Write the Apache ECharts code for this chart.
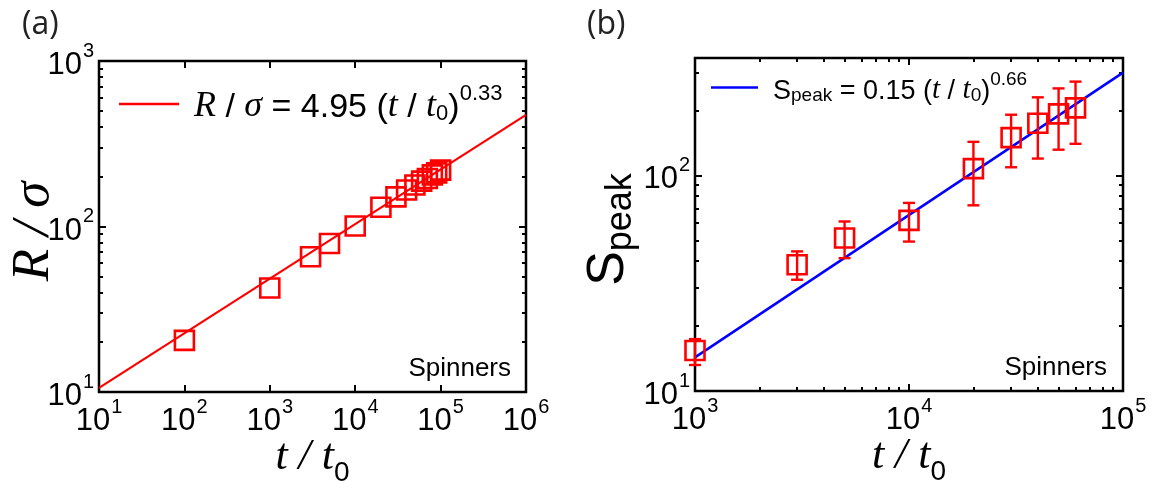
<!DOCTYPE html>
<html>
<head>
<meta charset="utf-8">
<script src="https://cdn.jsdelivr.net/npm/echarts@6/dist/echarts.min.js"></script>
<style>
  html, body { margin: 0; padding: 0; background: #ffffff; }
  #chart { width: 1162px; height: 481px; }
</style>
</head>
<body>
<div id="chart"></div>
<script>
// ---- (a) domain radius R/sigma versus time t/t0 ----
const timeA   = [100, 1000, 3000, 5000, 10000, 20000, 30000, 40000, 50000, 60000, 70000, 80000, 90000, 100000];
const radiusA = [20.5, 42.5, 65.7, 79.0, 100.7, 130.6, 151, 166, 178, 188, 195, 205, 211, 219];
const fitA = { coef: 4.95, expo: 0.33 };
const fitSpanA = [10, 1e6];

// ---- (b) structure-factor peak S_peak versus time t/t0 ----
const timeB  = [1000, 3000, 5000, 10000, 20000, 30000, 40000, 50000, 60000];
const speakB = [15.4, 38.5, 51.2, 61.8, 107.4, 149.6, 174.4, 192.8, 205.6];
const lowB   = [13.2, 32.8, 41.3, 49.3, 72.6, 109, 119.6, 131.5, 140];
const highB  = [17.4, 44.4, 61.1, 74.5, 143, 191, 230, 253, 272];
const fitB = { coef: 0.15, expo: 0.66 };
const fitSpanB = [1000, 1e5];

// ---- axis ranges and minor tick positions ----
const xRangeA = [10, 1e6];
const yRangeA = [10, 1e3];
const xRangeB = [1e3, 1e5];
const yRangeB = [10, 350];
const yMinorA = [20, 30, 40, 50, 60, 70, 80, 90, 200, 300, 400, 500, 600, 700, 800, 900];
const xMinorB = [2000, 3000, 4000, 5000, 6000, 7000, 8000, 9000, 20000, 30000, 40000, 50000, 60000, 70000, 80000, 90000];
const yMinorB = [20, 30, 40, 50, 60, 70, 80, 90, 200, 300];

const RED = '#ff0000';
const BLUE = '#0000ff';
const SANS = 'Liberation Sans';
const SERIF = 'Liberation Serif';

const fitNameA = 'R / sigma fit';
const fitNameB = 'S_peak fit';

function powerLaw(fit, t) { return fit.coef * Math.pow(t, fit.expo); }

// "10^n" labels at whole decades only
function decadeLabel(v) {
  const e = Math.log10(v);
  const r = Math.round(e);
  return Math.abs(e - r) < 1e-6 ? '{b|10}{s|' + r + '}' : '';
}
const tickRich = {
  b: { fontFamily: SANS, fontSize: 31, color: '#000', verticalAlign: 'bottom' },
  s: { fontFamily: SANS, fontSize: 20, color: '#000', verticalAlign: 'top', padding: [0, 0, 20, 1] }
};

const xAxes = [];
const yAxes = [];

function addAxis(list, cfg) {
  const ax = {
    type: 'log',
    logBase: 10,
    gridIndex: cfg.grid,
    position: cfg.pos,
    min: cfg.range[0],
    max: cfg.range[1],
    axisLine: { show: false },
    axisTick: {
      show: true,
      inside: true,
      length: cfg.minor ? 4 : 7,
      lineStyle: { color: '#000', width: 2 }
    },
    axisLabel: { show: false },
    splitLine: { show: false },
    minorTick: { show: false },
    minorSplitLine: { show: false }
  };
  if (cfg.minor) ax.axisTick.customValues = cfg.minor;
  if (cfg.labels) {
    ax.axisLabel = {
      show: true,
      margin: 5,
      fontFamily: SANS,
      formatter: decadeLabel,
      rich: tickRich
    };
  }
  if (cfg.name) Object.assign(ax, { nameMoveOverlap: false }, cfg.name);
  list.push(ax);
  return list.length - 1;
}

const timeName = {
  name: '{i|t / t}{sub|0}',
  nameLocation: 'middle',
  nameGap: 43,
  nameTextStyle: {
    fontFamily: SERIF,
    rich: {
      i: { fontFamily: SERIF, fontStyle: 'italic', fontSize: 44, color: '#000', verticalAlign: 'top' },
      sub: { fontFamily: SANS, fontSize: 28, color: '#000', verticalAlign: 'bottom', padding: [24, 0, 0, 0] }
    }
  }
};

// panel (a)
const xA = addAxis(xAxes, { grid: 0, pos: 'bottom', range: xRangeA, labels: true, name: timeName });
addAxis(xAxes, { grid: 0, pos: 'top', range: xRangeA });
const yA = addAxis(yAxes, {
  grid: 0, pos: 'left', range: yRangeA, labels: true,
  name: {
    name: '{i|R / σ}',
    nameLocation: 'middle',
    nameGap: 38,
    nameRotate: 90,
    nameTextStyle: {
      fontFamily: SERIF,
      padding: [0, 10, 0, 0],
      rich: { i: { fontFamily: SERIF, fontStyle: 'italic', fontSize: 53, color: '#000' } }
    }
  }
});
addAxis(yAxes, { grid: 0, pos: 'right', range: yRangeA });
addAxis(yAxes, { grid: 0, pos: 'left', range: yRangeA, minor: yMinorA });
addAxis(yAxes, { grid: 0, pos: 'right', range: yRangeA, minor: yMinorA });

// panel (b)
const xB = addAxis(xAxes, { grid: 1, pos: 'bottom', range: xRangeB, labels: true, name: timeName });
addAxis(xAxes, { grid: 1, pos: 'top', range: xRangeB });
addAxis(xAxes, { grid: 1, pos: 'bottom', range: xRangeB, minor: xMinorB });
addAxis(xAxes, { grid: 1, pos: 'top', range: xRangeB, minor: xMinorB });
const yB = addAxis(yAxes, {
  grid: 1, pos: 'left', range: yRangeB, labels: true,
  name: {
    name: '{s|S}{sub|peak}',
    nameLocation: 'middle',
    nameGap: 56,
    nameRotate: 90,
    nameTextStyle: {
      fontFamily: SANS,
      padding: [0, 10, 0, 0],
      rich: {
        s: { fontFamily: SANS, fontSize: 52, color: '#000', verticalAlign: 'top' },
        sub: { fontFamily: SANS, fontSize: 36, color: '#000', verticalAlign: 'bottom', padding: [20, 0, 0, 0] }
      }
    }
  }
});
addAxis(yAxes, { grid: 1, pos: 'right', range: yRangeB });
addAxis(yAxes, { grid: 1, pos: 'left', range: yRangeB, minor: yMinorB });
addAxis(yAxes, { grid: 1, pos: 'right', range: yRangeB, minor: yMinorB });

// legend text styles
function legendRich(size, ratio) {
  const sub = Math.round(size * ratio);
  return {
    gap: { width: 10, fontSize: size },
    n: { fontFamily: SANS, fontSize: size, color: '#000', verticalAlign: 'bottom' },
    it: { fontFamily: SERIF, fontStyle: 'italic', fontSize: size + 2, color: '#000', verticalAlign: 'bottom' },
    sub: { fontFamily: SANS, fontSize: sub, color: '#000', verticalAlign: 'bottom' },
    sup: { fontFamily: SANS, fontSize: sub, color: '#000', verticalAlign: 'top', padding: [0, 0, Math.round(size * 0.6), 0] }
  };
}

const spinnerStyle = { text: 'Spinners', fontSize: 26, fontFamily: SANS, fill: '#000', textAlign: 'right', textVerticalAlign: 'middle', align: 'right', verticalAlign: 'middle' };

const gridBase = { show: true, borderColor: '#000', borderWidth: 2.5, backgroundColor: 'transparent', containLabel: false, outerBoundsMode: 'none' };

const option = {
  backgroundColor: '#ffffff',
  animation: false,
  title: [
    { text: '(a)', left: 17, top: 4, textStyle: { fontFamily: 'Open Sans', fontWeight: 'normal', fontSize: 32, color: '#222' } },
    { text: '(b)', left: 582, top: 4, textStyle: { fontFamily: 'Open Sans', fontWeight: 'normal', fontSize: 32, color: '#222' } }
  ],
  grid: [
    Object.assign({ left: 99, top: 61, width: 427, height: 331 }, gridBase),
    Object.assign({ left: 695, top: 58, width: 428, height: 333 }, gridBase)
  ],
  xAxis: xAxes,
  yAxis: yAxes,
  legend: [
    {
      data: [fitNameA],
      left: 119, top: 83, padding: 0,
      icon: 'rect', itemWidth: 60, itemHeight: 2.5,
      itemStyle: { color: RED, borderWidth: 0 },
      selectedMode: false,
      formatter: () => '{gap|}{it|R}{n| / }{it|σ}{n| = 4.95 (}{it|t}{n| / }{it|t}{sub|0}{n|)}{sup|0.33}',
      textStyle: { rich: legendRich(34, 0.65) }
    },
    {
      data: [fitNameB],
      left: 711, top: 70, padding: 0,
      icon: 'rect', itemWidth: 47, itemHeight: 2.5,
      itemStyle: { color: BLUE, borderWidth: 0 },
      selectedMode: false,
      formatter: () => '{gap|}{n|S}{sub|peak}{n| = 0.15 (}{it|t}{n| / }{it|t}{sub|0}{n|)}{sup|0.66}',
      textStyle: { rich: legendRich(27, 0.72) }
    }
  ],
  graphic: [
    { type: 'text', x: 511, y: 369, style: Object.assign({}, spinnerStyle) },
    { type: 'text', x: 1107, y: 368, style: Object.assign({}, spinnerStyle) }
  ],
  series: [
    {
      name: fitNameA,
      type: 'line',
      xAxisIndex: xA, yAxisIndex: yA,
      data: fitSpanA.map(t => [t, powerLaw(fitA, t)]),
      showSymbol: false,
      lineStyle: { color: RED, width: 2.2 },
      itemStyle: { color: RED },
      silent: true,
      z: 2
    },
    {
      name: 'R data',
      type: 'scatter',
      xAxisIndex: xA, yAxisIndex: yA,
      data: timeA.map((t, i) => [t, radiusA[i]]),
      symbol: 'rect',
      symbolSize: 19,
      itemStyle: { color: 'rgba(0,0,0,0)', borderColor: RED, borderWidth: 2.6, opacity: 1 },
      silent: true,
      z: 3
    },
    {
      name: fitNameB,
      type: 'line',
      xAxisIndex: xB, yAxisIndex: yB,
      data: fitSpanB.map(t => [t, powerLaw(fitB, t)]),
      showSymbol: false,
      lineStyle: { color: BLUE, width: 2.5 },
      itemStyle: { color: BLUE },
      silent: true,
      z: 2
    },
    {
      name: 'S error',
      type: 'custom',
      xAxisIndex: xB, yAxisIndex: yB,
      data: timeB.map((t, i) => [t, lowB[i], highB[i]]),
      encode: { x: 0, y: [1, 2] },
      silent: true,
      z: 3,
      renderItem: function (params, api) {
        const lo = api.coord([api.value(0), api.value(1)]);
        const hi = api.coord([api.value(0), api.value(2)]);
        const w = 6;
        const st = { stroke: RED, lineWidth: 2.4 };
        return {
          type: 'group',
          children: [
            { type: 'line', shape: { x1: lo[0], y1: lo[1], x2: hi[0], y2: hi[1] }, style: st },
            { type: 'line', shape: { x1: lo[0] - w, y1: lo[1], x2: lo[0] + w, y2: lo[1] }, style: st },
            { type: 'line', shape: { x1: hi[0] - w, y1: hi[1], x2: hi[0] + w, y2: hi[1] }, style: st }
          ]
        };
      }
    },
    {
      name: 'S data',
      type: 'scatter',
      xAxisIndex: xB, yAxisIndex: yB,
      data: timeB.map((t, i) => [t, speakB[i]]),
      symbol: 'rect',
      symbolSize: 19,
      itemStyle: { color: 'rgba(0,0,0,0)', borderColor: RED, borderWidth: 2.6, opacity: 1 },
      silent: true,
      z: 4
    }
  ]
};

const chart = echarts.init(document.getElementById('chart'), null, { renderer: 'canvas' });
chart.setOption(option);
</script>
</body>
</html>
